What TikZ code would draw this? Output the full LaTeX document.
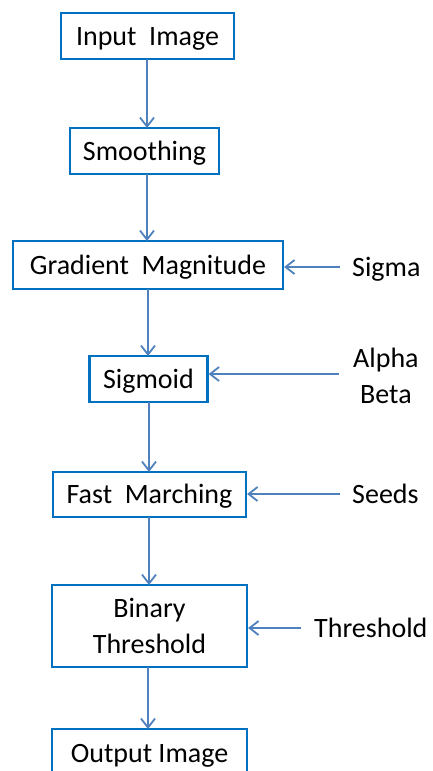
\documentclass[tikz,border=0pt]{standalone}
\usepackage{fontspec}
\setmainfont{Carlito}
\usetikzlibrary{arrows.meta}
\definecolor{boxblue}{RGB}{0,112,192}
\definecolor{arrowblue}{RGB}{79,129,189}
\begin{document}
\begin{tikzpicture}[x=1pt,y=-1pt,
  txt/.style={inner sep=0pt, font=\fontsize{28}{36}\selectfont, align=center,
    text height=23pt, text depth=5pt},
  stage/.style={txt, draw=boxblue, line width=2.2pt, fill=white},
  twoline/.style={text height=59pt},
  param/.style={txt, anchor=west},
  flow/.style={draw=arrowblue, line width=1.8pt,
    -{Straight Barb[length=9pt,width=14pt,line width=1.8pt]}}]
\useasboundingbox (0,0) rectangle (432,771);
\clip (0,0) rectangle (432,771);

% processing stages
\node[stage, minimum width=173pt, minimum height=46pt] (in)  at (147.5,36)  {Input\ \ Image};
\node[stage, minimum width=149pt, minimum height=46pt] (sm)  at (144.5,151) {Smoothing};
\node[stage, minimum width=270pt, minimum height=48pt] (gm)  at (148,265)   {Gradient\ \ Magnitude};
\node[stage, minimum width=118pt, minimum height=46pt] (sg)  at (148.5,379) {Sigmoid};
\node[stage, minimum width=193pt, minimum height=45pt] (fm)  at (149.5,494.5) {Fast\ \ Marching};
\node[stage, twoline, minimum width=195pt, minimum height=82pt] (bt) at (149.5,626) {Binary\\Threshold};
\node[stage, minimum width=195pt, minimum height=48pt] (out) at (149.5,753) {Output Image};

% parameters
\node[param] (sigma) at (352,267) {Sigma};
\node[param, twoline] (ab) at (353,376) {Alpha\\Beta};
\node[param] (seeds) at (352,494) {Seeds};
\node[param] (thr)   at (314,628) {Threshold};

% main flow
\draw[flow] (147,59) -- (147,128);
\draw[flow] (147,174) -- (147,241);
\draw[flow] (148,289) -- (148,356);
\draw[flow] (149,402) -- (149,472);
\draw[flow] (149,517) -- (149,585);
\draw[flow] (148,667) -- (148,729);

% parameter inputs
\draw[flow] ([xshift=-12pt]sigma.west) -- (gm.east |- sigma.west);
\draw[flow] ([xshift=-14pt,yshift=2pt]ab.west) -- ([yshift=2pt]sg.east |- ab.west);
\draw[flow] ([xshift=-12pt]seeds.west) -- (fm.east |- seeds.west);
\draw[flow] ([xshift=-13pt]thr.west) -- (bt.east |- thr.west);
\end{tikzpicture}
\end{document}
